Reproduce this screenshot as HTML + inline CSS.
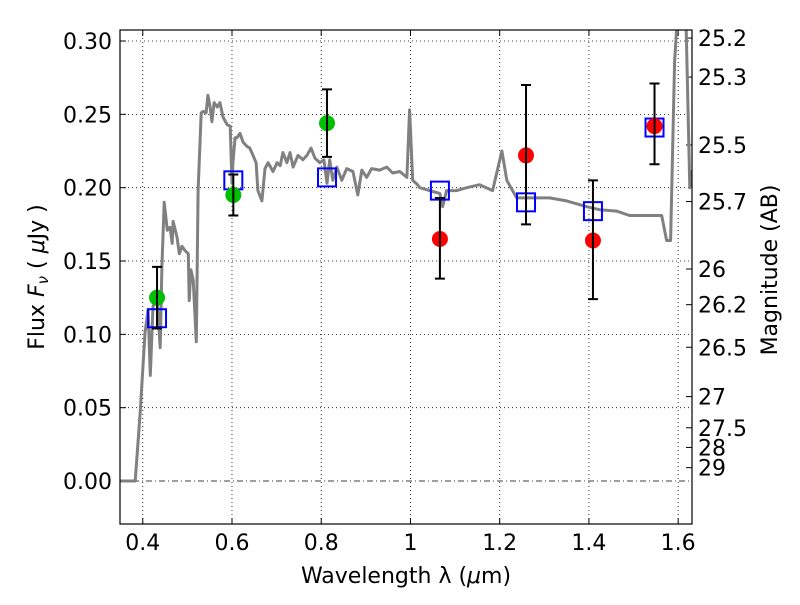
<!DOCTYPE html>
<html><head><meta charset="utf-8"><style>
body{margin:0;background:#fff;}
svg text{font-family:"DejaVu Sans","Liberation Sans",sans-serif;font-size:22px;fill:#000;}
</style></head><body>
<svg id="chart" width="800" height="600"></svg>
<script>
const specLam=[0.349,0.383,0.394,0.405,0.412,0.417,0.423,0.432,0.439,0.443,0.448,0.455,0.461,0.466,0.468,0.477,0.482,0.488,0.495,0.502,0.504,0.508,0.513,0.520,0.524,0.531,0.536,0.542,0.546,0.551,0.555,0.560,0.567,0.573,0.580,0.589,0.596,0.600,0.602,0.607,0.611,0.618,0.625,0.634,0.640,0.647,0.654,0.658,0.667,0.674,0.681,0.692,0.701,0.708,0.714,0.723,0.730,0.737,0.748,0.759,0.768,0.777,0.786,0.797,0.806,0.813,0.819,0.826,0.835,0.846,0.857,0.871,0.882,0.891,0.902,0.913,0.931,0.947,0.960,0.976,0.992,0.998,1.005,1.016,1.021,1.043,1.066,1.072,1.081,1.104,1.126,1.155,1.184,1.205,1.216,1.238,1.274,1.312,1.350,1.395,1.424,1.462,1.491,1.543,1.563,1.574,1.583,1.592,1.599,1.617,1.626,1.630];
const specFlux=[0,0,0.046,0.101,0.117,0.072,0.119,0.125,0.091,0.146,0.190,0.171,0.173,0.162,0.177,0.166,0.155,0.160,0.157,0.155,0.123,0.144,0.137,0.095,0.198,0.251,0.252,0.251,0.263,0.255,0.245,0.258,0.255,0.258,0.248,0.243,0.242,0.203,0.217,0.234,0.234,0.237,0.231,0.228,0.227,0.222,0.217,0.198,0.191,0.213,0.217,0.211,0.217,0.215,0.224,0.217,0.224,0.214,0.222,0.219,0.222,0.227,0.220,0.217,0.219,0.203,0.219,0.205,0.214,0.205,0.213,0.211,0.195,0.212,0.207,0.213,0.212,0.214,0.210,0.211,0.207,0.253,0.205,0.202,0.200,0.198,0.196,0.187,0.198,0.198,0.200,0.202,0.198,0.225,0.205,0.193,0.193,0.193,0.191,0.187,0.185,0.184,0.181,0.181,0.181,0.164,0.164,0.286,0.32,0.32,0.200,0.212];
const greenLam=[0.432,0.603,0.813];
const greenFlux=[0.125,0.195,0.244];
const greenHi=[0.146,0.209,0.267];
const greenLo=[0.104,0.181,0.221];
const redLam=[1.066,1.259,1.409,1.547];
const redFlux=[0.165,0.222,0.164,0.242];
const redHi=[0.193,0.270,0.205,0.271];
const redLo=[0.138,0.175,0.124,0.216];
const modelLam=[0.432,0.603,0.813,1.066,1.259,1.409,1.547];
const modelFlux=[0.111,0.205,0.207,0.198,0.190,0.184,0.241];
const xTicks=[0.4,0.6,0.8,1.0,1.2,1.4,1.6];
const xTickLabels=["0.4","0.6","0.8","1","1.2","1.4","1.6"];
const yTicks=[0,0.05,0.10,0.15,0.20,0.25,0.30];
const yTickLabels=["0.00","0.05","0.10","0.15","0.20","0.25","0.30"];
const magTicks=[25.2,25.3,25.5,25.7,26,26.2,26.5,27,27.5,28,29];

const L=120,R=692,T=30,B=524;
const X0=0.349,X1=1.631,Y0=-0.0293,Y1=0.3075;
const sx=v=>L+(v-X0)/(X1-X0)*(R-L);
const sy=v=>B-(v-Y0)/(Y1-Y0)*(B-T);
const NS="http://www.w3.org/2000/svg";
const svg=document.getElementById('chart');
function mk(tag,attrs,parent){const e=document.createElementNS(NS,tag);for(const k in attrs)e.setAttribute(k,attrs[k]);(parent||svg).appendChild(e);return e;}

const defs=mk('defs',{});
const cp=mk('clipPath',{id:'clip'},defs);mk('rect',{x:L,y:T,width:R-L,height:B-T},cp);

xTicks.forEach((t,i)=>{
  const g=mk('line',{x1:sx(t),x2:sx(t),y1:T,y2:B,stroke:'#000','stroke-width':0.8,'stroke-dasharray':'1,3'});
  
  
  mk('line',{x1:sx(t),x2:sx(t),y1:B,y2:B-6,stroke:'#000'});
  mk('line',{x1:sx(t),x2:sx(t),y1:T,y2:T+6,stroke:'#000'});
  const tx=mk('text',{x:sx(t),y:B+26,'text-anchor':'middle'});tx.textContent=xTickLabels[i];
  
  
});
yTicks.forEach((t,i)=>{
  if(t!==0){const g=mk('line',{x1:L,x2:R,y1:sy(t),y2:sy(t),stroke:'#000','stroke-width':0.8,'stroke-dasharray':'1,3'});
  
  }
  mk('line',{x1:L,x2:L+6,y1:sy(t),y2:sy(t),stroke:'#000'});
  const tx=mk('text',{x:L-8,y:sy(t)+8,'text-anchor':'end'});tx.textContent=yTickLabels[i];
  
  
});
const zl=mk('line',{x1:L,x2:R,y1:sy(0),y2:sy(0),stroke:'#000','stroke-width':0.8,'stroke-dasharray':'6,3,1,3'});



magTicks.forEach(m=>{
  const f=Math.pow(10,(23.9-m)/2.5);
  mk('line',{x1:R-6,x2:R,y1:sy(f),y2:sy(f),stroke:'#000'});
  const tx=mk('text',{x:R+6,y:sy(f)+8});tx.textContent=String(m);
  
  
});

let d='';specLam.forEach((l,i)=>{d+=(i?'L':'M')+sx(l).toFixed(1)+','+sy(specFlux[i]).toFixed(1);});
const sp=mk('path',{d:d,fill:'none',stroke:'#808080','stroke-width':3,'clip-path':'url(#clip)','stroke-linejoin':'round'});



modelLam.forEach((l,i)=>{
  const r=mk('rect',{x:sx(l)-9,y:sy(modelFlux[i])-9,width:18,height:18,fill:'none',stroke:'#0000ff','stroke-width':2});
  
  
});
function points(lams,fl,hi,lo,color,name){
  lams.forEach((l,i)=>{
    const x=sx(l);
    const c=mk('circle',{cx:x,cy:sy(fl[i]),r:8,fill:color});
    
    
    const e=mk('path',{d:`M${x},${sy(hi[i])}V${sy(lo[i])}M${x-5},${sy(hi[i])}h10M${x-5},${sy(lo[i])}h10`,stroke:'#000','stroke-width':2,fill:'none'});
    
    
  });
}
points(greenLam,greenFlux,greenHi,greenLo,'#00bf00','observed-point-green');
points(redLam,redFlux,redHi,redLo,'#ff0000','observed-point-red');

const fr=mk('rect',{x:L,y:T,width:R-L,height:B-T,fill:'none',stroke:'#000','stroke-width':1.2});


</script>
<svg width="800" height="600" style="position:absolute;left:0;top:0">
<text x="406" y="583" text-anchor="middle">Wavelength  λ (<tspan font-style="italic">μ</tspan>m)</text>
<text transform="translate(44,277) rotate(-90)" text-anchor="middle">Flux  <tspan font-style="italic">F</tspan><tspan font-size="15" dy="4" font-style="italic">ν</tspan><tspan dy="-4">  ( </tspan><tspan font-style="italic">μ</tspan>Jy )</text>
<text transform="translate(777,270) rotate(-90)" text-anchor="middle">Magnitude (AB)</text>
</svg>
</body></html>
